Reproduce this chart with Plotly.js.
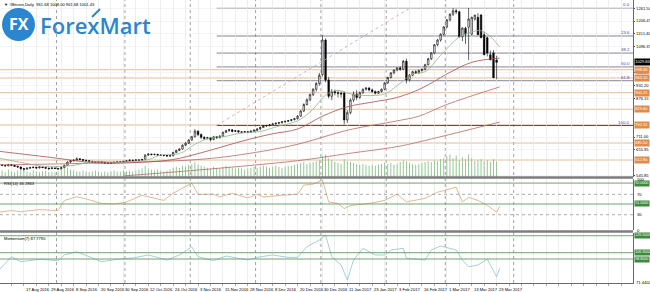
<!DOCTYPE html>
<html><head><meta charset="utf-8">
<script src="https://cdn.plot.ly/plotly-3.0.1.min.js"></script>
<style>html,body{margin:0;padding:0;background:#fff;}#chart{width:650px;height:292px;}</style>
</head><body><div id="chart"></div>
<script>
// ---- price data (bar index = trading day) ----
const openP = [595,592,590,588,593,590,586,583,576,574,578,580,582,579,583,581,578,576,579,577,575,580,590,604,610,612,618,615,612,610,607,606,604,606,603,600,599,601,603,605,604,607,609,612,611,613,612,616,634,638,636,637,634,633,632,630,631,645,654,660,676,685,698,712,736,722,710,705,708,700,712,708,715,731,738,742,735,738,733,731,734,731,736,740,745,752,758,760,763,767,770,772,776,778,781,785,789,800,822,850,870,892,915,940,978,1125,955,885,905,900,898,899,784,815,869,895,880,900,915,920,912,905,898,905,915,942,965,985,997,1006,1000,1035,955,975,990,985,995,1000,1020,1045,1070,1105,1125,1150,1181,1211,1235,1250,1246,1139,1176,1180,1150,1215,1222,1232,1148,1135,1062,1070,1040,964];
const highP = [598,596,593,596,595,592,589,585,578,581,584,585,584,586,585,583,580,582,581,579,583,593,607,613,616,624,621,617,614,612,610,608,609,608,605,603,604,606,608,607,609,611,615,614,616,615,618,637,641,640,640,639,637,635,634,634,648,657,663,680,689,702,716,745,740,726,714,712,711,716,715,719,734,742,746,744,741,740,736,737,736,739,743,748,755,761,763,766,770,773,775,779,781,784,788,792,805,826,855,876,897,920,945,985,1147,1132,968,916,914,911,906,906,826,876,906,911,906,918,924,925,918,910,909,918,945,968,988,1000,1010,1012,1040,1046,980,994,996,999,1004,1024,1049,1074,1108,1130,1154,1185,1215,1240,1261,1258,1250,1180,1182,1262,1225,1232,1240,1236,1160,1140,1080,1082,1058,1036];
const lowP = [588,587,585,586,587,583,580,572,568,572,576,578,575,577,578,575,572,574,574,570,573,578,588,600,606,610,611,608,606,603,602,600,601,600,596,595,597,599,601,601,602,605,607,608,609,609,610,614,631,633,633,631,630,628,626,627,629,642,650,657,672,681,694,709,715,702,698,700,692,697,703,705,712,728,734,731,732,729,727,728,727,729,733,737,742,749,754,756,760,764,766,769,772,775,778,782,786,797,818,845,864,886,905,930,970,945,876,868,889,880,879,765,772,808,860,868,874,895,909,906,900,893,894,901,911,938,960,979,992,994,997,940,948,970,980,981,990,996,1016,1040,1065,1098,1118,1144,1175,1205,1228,1236,1135,1120,1108,1040,1145,1208,1215,1140,1125,1055,1040,1030,958,958];
const closeP = [592,590,588,593,590,586,583,576,574,578,580,582,579,583,581,578,576,579,577,575,580,590,604,610,612,618,615,612,610,607,606,604,606,603,600,599,601,603,605,604,607,609,612,611,613,612,615,634,638,636,637,634,633,632,630,631,645,654,660,676,685,698,712,736,722,710,705,708,700,712,708,715,731,738,742,735,738,733,731,734,731,736,740,745,752,758,760,763,767,770,772,776,778,781,785,789,800,822,850,870,892,915,940,975,1125,955,885,905,900,898,895,784,815,869,895,880,900,915,920,912,905,898,905,915,942,965,985,997,1006,1000,1035,955,975,990,985,995,1000,1020,1045,1070,1105,1125,1150,1181,1211,1235,1250,1246,1139,1176,1150,1215,1222,1232,1148,1135,1062,1070,1040,964,1029.84];
const volume = [6,7,5,8,6,5,7,9,10,6,5,7,6,5,6,7,5,6,5,6,8,
 9,10,8,7,6,6,7,6,5,6,7,6,5,6,5,6,7,6,6,7,
 6,7,6,7,8,9,12,9,8,7,8,7,6,7,8,10,11,10,12,11,
 13,14,16,13,12,11,10,9,11,10,9,11,12,11,10,9,10,9,8,9,
 10,11,10,11,12,11,10,11,12,11,10,11,12,12,13,14,15,16,14,15,
 16,17,18,22,24,20,18,16,15,14,19,17,16,15,14,13,14,13,12,13,
 12,13,14,15,14,15,13,14,16,18,17,15,14,13,14,15,16,17,16,18,
 17,19,20,22,24,20,23,18,21,19,24,20,17,18,19,17,18,16,19,17,15];

// moving averages (bar index, value)
const maFastIdx = [0,8,15,24,30,40,48,52,58,63,68,72,78,84,90,96,101,105,109,113,118,124,128,133,137,142,148,152,155,158,161];
const maFastVal = [621,600,585,590,606,604,615,634,640,680,708,712,728,735,758,780,830,890,910,895,888,895,930,980,990,1060,1138,1160,1165,1140,1095];
const maMidIdx = [0,16,32,48,56,64,72,80,88,96,104,112,120,128,136,144,152,161];
const maMidVal = [650,625,600,605,615,640,670,700,725,745,800,840,860,880,920,980,1030,1048];
const maSlowIdx = [0,32,64,80,96,112,128,135,144,161];
const maSlowVal = [592,600,615,640,680,740,780,800,850,925];
const maVSlowIdx = [40,64,96,112,128,135,161];
const maVSlowVal = [545,570,610,640,670,690,775];

// RSI(14)
const rsiIdx = [0,4,7,13,19,21,25,28,33,37,41,46,53,56,62,64,69,71,75,80,83,85,91,96,98,101,104,106,109,111,113,119,124,128,131,137,141,147,149,151,154,157,160,161];
const rsiVal = [35,38,36,40,38,58,65,61,52,51,55,68,58,72,92,70,70,65,72,63,70,65,68,70,88,90,98,55,52,42,48,52,58,70,55,62,74,84,55,64,58,48,35,46.29];
// Momentum(7)
const momIdx = [0,4,7,13,19,21,25,29,33,38,43,48,54,58,62,64,69,73,80,83,88,93,96,99,103,105,107,110,112,114,117,121,124,126,130,131,137,139,142,147,149,151,154,157,159,160,161];
const momVal = [85.7,101.5,95.6,98.5,96.8,103.6,107.5,101.5,95.6,98.5,100,103.6,97.6,103.6,113.1,101.5,96.8,102.4,97.6,100.8,103.6,100.8,100.8,113.4,121.4,127.4,101.5,91.7,73.8,97.6,111.5,103.6,103.6,109.5,111.5,99.6,97.6,109.5,114.3,109.5,97.6,89.6,91.7,98.5,85.7,77.7,87.78];

// axis labels
const dateIdx = [0,8,16,24,32,40,48,56,64,72,80,88,96,104,112,120,128,136,144,152,160];
const dateText = ['1 Aug 2016','17 Aug 2016','29 Aug 2016','8 Sep 2016','20 Sep 2016','30 Sep 2016','12 Oct 2016','24 Oct 2016','3 Nov 2016','15 Nov 2016','28 Nov 2016','8 Dec 2016','20 Dec 2016','30 Dec 2016','11 Jan 2017','23 Jan 2017','3 Feb 2017','16 Feb 2017','1 Mar 2017','13 Mar 2017','23 Mar 2017'];
const priceTicks = [545.85,655.95,711.00,876.15,931.20,986.25,1096.35,1151.40,1206.45,1261.50];
const monthSepIdx = [19,41,62,83,104,125,144,166];

// Fibonacci & horizontal levels
const fibLevels = ['0.0','23.6','38.2','50.0','61.8','100.0'];
const fibPrices = [1260.6,1142.5,1069.4,1010.4,951.4,760.2];
const hLevels = [998.40,963.10,900.25,829.60,762.55,685.50,612.80];
const rsiLevels = [92,51];
const momLevels = [126.5,106.3,98.8];

const idx = closeP.map((_, i) => i);
const W = 633, H = 283;
const py = y => (H - y) / H; // pixel -> paper

const traces = [
  {type:'bar', x: idx, y: volume, xaxis:'x', yaxis:'y', marker:{color:'#86c086'}, width:0.28, hoverinfo:'skip', showlegend:false},
  {type:'scatter', mode:'lines', x: maVSlowIdx, y: maVSlowVal, yaxis:'y2', line:{color:'#b56a63', width:0.8, shape:'spline'}, hoverinfo:'skip', showlegend:false},
  {type:'scatter', mode:'lines', x: maSlowIdx, y: maSlowVal, yaxis:'y2', line:{color:'#b56a63', width:0.8, shape:'spline'}, hoverinfo:'skip', showlegend:false},
  {type:'scatter', mode:'lines', x: maMidIdx, y: maMidVal, yaxis:'y2', line:{color:'#a84c4c', width:0.8, shape:'spline'}, hoverinfo:'skip', showlegend:false},
  {type:'scatter', mode:'lines', x: maFastIdx, y: maFastVal, yaxis:'y2', line:{color:'#8fb48f', width:0.8, shape:'spline'}, hoverinfo:'skip', showlegend:false},
  {type:'candlestick', x: idx, open: openP, high: highP, low: lowP, close: closeP, xaxis:'x', yaxis:'y2',
    increasing:{line:{color:'#000', width:0.6}, fillcolor:'#ffffff'},
    decreasing:{line:{color:'#000', width:0.6}, fillcolor:'#000000'},
    whiskerwidth:0, hoverinfo:'skip', showlegend:false},
  {type:'scatter', mode:'lines', x: rsiIdx, y: rsiVal, yaxis:'y3', line:{color:'#d9a878', width:0.8}, hoverinfo:'skip', showlegend:false},
  {type:'scatter', mode:'lines', x: momIdx, y: momVal, yaxis:'y4', line:{color:'#8cc4cf', width:0.8}, hoverinfo:'skip', showlegend:false}
];

const shapes = [];
const annotations = [];
const FAM = 'Arial, Liberation Sans, sans-serif';
const tiny = {family:FAM, size:4.1, color:'#000'};
const boxFont = {family:FAM, size:4.0, color:'#fff'};
const greenFont = {family:FAM, size:3.6, color:'#fff'};

// month separators (dotted, across all panels)
monthSepIdx.forEach(i => shapes.push({type:'line', xref:'x', yref:'paper', x0:i-0.5, x1:i-0.5, y0:0, y1:1, line:{color:'#7a7a7a', width:0.7, dash:'dot'}, layer:'below'}));
// orange levels
hLevels.forEach(p => {
  shapes.push({type:'line', xref:'x', yref:'y2', x0:-5, x1:210, y0:p, y1:p, line:{color:'#e2b48c', width:0.9}, layer:'below'});
  annotations.push({xref:'paper', yref:'y2', x:1, y:p, xanchor:'left', yanchor:'middle', text:p.toFixed(2), showarrow:false, font:boxFont, bgcolor:'#e08c48', borderpad:0.3, xshift:0.5});
});
// fib lines
fibPrices.forEach((p, k) => {
  shapes.push({type:'line', xref:'x', yref:'y2', x0:70, x1:210, y0:p, y1:p, line:{color: k===5 ? '#6a3d8f' : '#77758c', width: k===5 ? 1.2 : 0.9}, layer:'below'});
  annotations.push({xref:'x', yref:'y2', x:203.4, y:p, xanchor:'right', yanchor:'bottom', text:fibLevels[k], showarrow:false, font:{family:FAM, size:4.4, color:'#4a4aa0'}, yshift:-1});
});
// fib trend line
shapes.push({type:'line', xref:'x', yref:'y2', x0:70, x1:132, y0:760.2, y1:1260.6, line:{color:'#c9a3a3', width:0.8, dash:'dot'}});
// current price box
annotations.push({xref:'paper', yref:'y2', x:1, y:closeP[closeP.length-1], xanchor:'left', yanchor:'middle', text:closeP[closeP.length-1].toFixed(2), showarrow:false, font:boxFont, bgcolor:'#000', borderpad:0.3, xshift:0.5});
// RSI levels
rsiLevels.forEach(v => {
  shapes.push({type:'line', xref:'paper', yref:'y3', x0:0, x1:1, y0:v, y1:v, line:{color:'#5f9a5f', width:0.9}});
  annotations.push({xref:'paper', yref:'y3', x:1, y:v, xanchor:'left', yanchor:'middle', text:v.toFixed(4), showarrow:false, font:greenFont, bgcolor:'#3c8a3c', borderpad:0.3, xshift:0.5});
});
[70,30].forEach(v => shapes.push({type:'line', xref:'paper', yref:'y3', x0:0, x1:1, y0:v, y1:v, line:{color:'#8a8a8a', width:0.7, dash:'dot'}}));
// Momentum levels
momLevels.forEach(v => {
  shapes.push({type:'line', xref:'paper', yref:'y4', x0:0, x1:1, y0:v, y1:v, line:{color:'#5f9a5f', width:0.9}});
  annotations.push({xref:'paper', yref:'y4', x:1, y:v, xanchor:'left', yanchor:'middle', text:v.toFixed(4), showarrow:false, font:greenFont, bgcolor:'#3c8a3c', borderpad:0.3, xshift:0.5});
});
// panel separators
[177.5, 231.5].forEach(y => shapes.push({type:'line', xref:'paper', yref:'paper', x0:0, x1:1, y0:py(y), y1:py(y), line:{color:'#7d7d7d', width:2.6}}));

// date labels (left aligned at tick like MT4)
dateIdx.forEach((i, k) => annotations.push({xref:'x', yref:'paper', x:i, y:0, xanchor:'left', yanchor:'top', text:dateText[k], showarrow:false, font:tiny, yshift:-1.5}));
// titles
annotations.push({xref:'paper', yref:'paper', x:0.003, y:1, xanchor:'left', yanchor:'top', text:'▼ #Bitcoin,Daily  961.68 1008.00 961.68 1001.43', showarrow:false, font:tiny});
annotations.push({xref:'paper', yref:'paper', x:0.003, y:py(179), xanchor:'left', yanchor:'top', text:'RSI(14) 46.2863', showarrow:false, font:tiny});
annotations.push({xref:'paper', yref:'paper', x:0.003, y:py(233.5), xanchor:'left', yanchor:'top', text:'Momentum(7) 87.7790', showarrow:false, font:tiny});
// RSI / momentum scale labels
[['100',100],['70',70],['30',30],['0',0]].forEach(t => annotations.push({xref:'paper', yref:'y3', x:1, y:t[1], xanchor:'left', yanchor:'middle', text:t[0], showarrow:false, font:tiny, xshift:2}));
annotations.push({xref:'paper', yref:'y4', x:1, y:71.44, xanchor:'left', yanchor:'middle', text:'71.4402', showarrow:false, font:tiny, xshift:1});

// ForexMart logo
shapes.push({type:'circle', xref:'paper', yref:'paper', x0:2/W, x1:35/W, y0:py(41), y1:py(8), fillcolor:'#2b86cf', line:{width:0}});
shapes.push({type:'path', xref:'paper', yref:'paper', path:`M ${92/W} ${py(17)} L ${100/W} ${py(9)}`, line:{color:'#2b86cf', width:2}});
annotations.push({xref:'paper', yref:'paper', x:18.5/W, y:py(24.5), xanchor:'center', yanchor:'middle', text:'<b>FX</b>', showarrow:false, font:{family:'Open Sans, Arial', size:16, color:'#fff'}});
annotations.push({xref:'paper', yref:'paper', x:38/W, y:py(25), xanchor:'left', yanchor:'middle', text:'ForexMart', showarrow:false, font:{family:'Open Sans, Arial', size:22, color:'#2b86cf', weight:600}});

const gridIdx = [];
for (let i = 0; i <= 204; i += 4) gridIdx.push(i);

const layout = {
  width:650, height:292, margin:{l:0, r:17, t:0, b:9},
  paper_bgcolor:'#fff', plot_bgcolor:'rgba(0,0,0,0)', showlegend:false, dragmode:false,
  xaxis:{domain:[0,1], range:[0.32,203.86], tickmode:'array', tickvals:gridIdx, ticktext:gridIdx.map(()=>''),
    showgrid:true, gridcolor:'#e3e3e3', gridwidth:0.6, ticks:'outside', ticklen:2, tickcolor:'#555', tickwidth:0.5,
    showline:true, linecolor:'#444', linewidth:0.8, zeroline:false, fixedrange:true, anchor:'y4', rangeslider:{visible:false}},
  yaxis:{domain:[py(177),1], range:[0, 30*177/28], visible:false, showgrid:false, zeroline:false, anchor:'x'},
  yaxis2:{overlaying:'y', range:[540.3,1296.1], side:'right', tickmode:'array', tickvals:priceTicks, ticktext:priceTicks.map(v=>v.toFixed(2)),
    tickfont:tiny, ticks:'outside', ticklen:1.5, tickcolor:'#555', showgrid:true, gridcolor:'#ececec', gridwidth:0.5,
    showline:true, linecolor:'#444', linewidth:0.8, zeroline:false, anchor:'x'},
  yaxis3:{domain:[py(230), py(179)], range:[0,100], side:'right', showticklabels:false, ticks:'', showgrid:false,
    showline:true, linecolor:'#444', linewidth:0.8, zeroline:false, anchor:'x'},
  yaxis4:{domain:[0, py(233)], range:[70.25,129.75], side:'right', showticklabels:false, ticks:'', showgrid:false,
    showline:true, linecolor:'#444', linewidth:0.8, zeroline:false, anchor:'x'},
  shapes, annotations
};
Plotly.newPlot('chart', traces, layout, {staticPlot:true, displayModeBar:false});
</script></body></html>
